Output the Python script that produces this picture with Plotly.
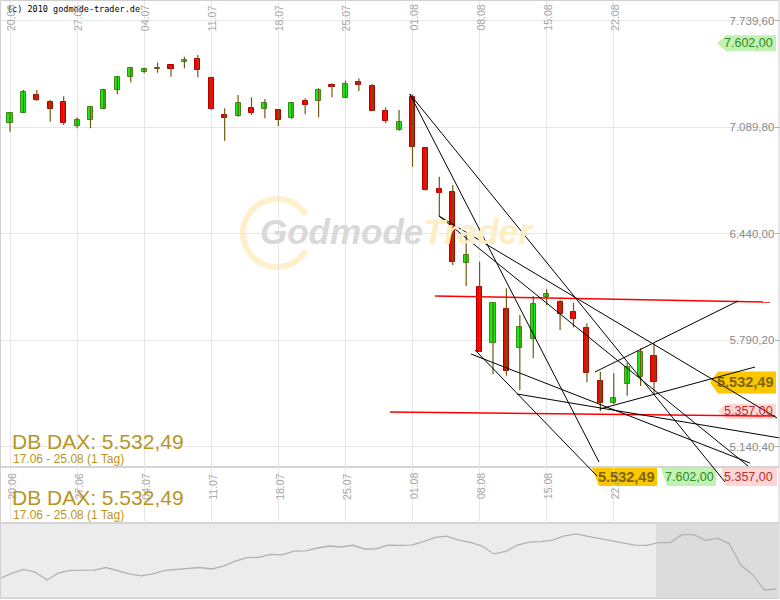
import math
import plotly.graph_objects as go

# ---------------- data ----------------
date_labels = ["20.06", "27.06", "04.07", "11.07", "18.07", "25.07", "01.08", "08.08", "15.08", "22.08"]
date_index = [0, 5, 10, 15, 20, 25, 30, 35, 40, 45]

opens = [7113.6, 7178.3, 7286.3, 7243.6, 7243.6, 7098.9, 7131.9, 7202.7, 7318.6, 7394.3,
         7428.4, 7444.0, 7467.5, 7489.4, 7505.9, 7390.0, 7162.4, 7160.0, 7205.1, 7199.0,
         7194.8, 7144.1, 7249.7, 7247.8, 7347.3, 7269.8, 7365.6, 7341.2, 7188.6, 7074.6,
         7276.0, 6961.1, 6714.6, 6694.5, 6263.1, 6116.6, 5771.3, 5980.6, 5744.5, 5799.4,
         6051.9, 6023.2, 5960.4, 5862.8, 5541.3, 5405.3, 5521.2, 5563.9, 5693.8]
highs = [7176.0, 7316.8, 7316.8, 7255.8, 7278.3, 7150.2, 7213.0, 7322.9, 7396.0, 7459.0,
         7452.8, 7483.4, 7468.0, 7519.9, 7530.3, 7398.0, 7205.1, 7286.3, 7272.2, 7261.9,
         7200.9, 7241.7, 7266.1, 7327.1, 7357.7, 7373.5, 7388.2, 7353.4, 7211.2, 7194.8,
         7290.0, 6961.1, 6787.8, 6737.1, 6442.4, 6269.2, 6016.0, 6106.9, 5944.0, 6059.9,
         6100.7, 6035.5, 6019.0, 5893.3, 5598.0, 5588.3, 5651.1, 5740.8, 5771.3]
lows = [7062.4, 7176.0, 7249.7, 7123.4, 7103.2, 7083.1, 7083.1, 7200.0, 7290.5, 7363.8,
        7418.7, 7422.3, 7398.0, 7449.2, 7394.3, 7194.8, 7007.4, 7153.9, 7164.2, 7144.1,
        7097.1, 7139.8, 7168.5, 7150.2, 7272.2, 7269.8, 7310.7, 7190.5, 7113.6, 7068.5,
        6848.8, 6702.4, 6548.0, 6249.0, 6120.9, 5718.0, 5582.2, 5573.6, 5486.4, 5679.8,
        6005.0, 5852.5, 5868.9, 5533.3, 5357.0, 5399.2, 5451.6, 5510.8, 5460.1]
closes = [7174.6, 7302.7, 7257.6, 7202.7, 7117.3, 7133.7, 7211.2, 7316.8, 7394.3, 7451.0,
          7444.9, 7442.5, 7446.7, 7499.8, 7440.6, 7202.7, 7147.8, 7235.6, 7178.3, 7235.6,
          7131.9, 7235.6, 7227.1, 7316.8, 7336.9, 7351.6, 7345.5, 7190.5, 7129.5, 7119.7,
          6970.8, 6706.6, 6690.3, 6269.2, 6310.0, 5720.0, 6015.3, 5602.3, 5868.9, 6011.1,
          6072.1, 5948.3, 5917.8, 5591.9, 5408.9, 5439.4, 5624.9, 5720.0, 5532.49]

# trendlines (start index, start price, end index, end price)
trend_i0 = [29.8, 29.8, 31.97, 31.97, 37.79, 34.66, 34.36, 43.60, 43.97]
trend_p0 = [7292.4, 7292.4, 6548.0, 6548.0, 5462.0, 5730.4, 5706.0, 5596.2, 5370.5]
trend_i1 = [43.90, 53.29, 57.17, 55.01, 57.39, 43.75, 55.15, 54.26, 55.53]
trend_p1 = [5047.1, 4925.1, 5315.6, 5022.7, 5193.5, 4961.7, 5041.0, 6029.4, 5626.7]

# red horizontal support / resistance lines
level_i0 = [31.68, 28.32]
level_p0 = [6059.9, 5352.2]
level_i1 = [56.64, 57.02]
level_p1 = [6023.2, 5327.8]

price_ticks = [5140.40, 5790.20, 6440.00, 7089.80, 7739.60]

last_price = 5532.49
mark_high = 7602.00
mark_low = 5357.00

nav_values = [5950, 6150, 6310, 6200, 5880, 6170, 6270, 6280, 6280, 6390,
              6250, 6130, 6050, 6130, 6270, 6300, 6350, 6390, 6330, 6450,
              6650, 6790, 6800, 6920, 6900, 7050, 7060, 7180, 7260, 7220,
              7290, 7140, 7150, 7300, 7290, 7300, 7440, 7610, 7660, 7500,
              7410, 7260, 6940, 7040, 7300, 7420, 7440, 7500, 7670, 7750,
              7650, 7570, 7460, 7380, 7300, 7290, 7400, 7400, 7720, 7720,
              7490, 7580, 7360, 6490, 6100, 5480, 5520]

# ---------------- geometry helpers ----------------
W, H = 780, 600
Y_RANGE = [4674.9, 7865.9]
MAIN_BOTTOM_PX = 523
X_RANGE = [-0.745, 57.39]


def px(x):
    return x / W


def py(y):
    return (H - y) / H


units_per_px = (Y_RANGE[1] - Y_RANGE[0]) / MAIN_BOTTOM_PX

fig = go.Figure()

# wicks
wx, wy = [], []
for i, (h, l) in enumerate(zip(highs, lows)):
    wx += [i, i, None]
    wy += [l, h, None]
fig.add_trace(go.Scatter(x=wx, y=wy, mode="lines", line=dict(color="#6e5a12", width=1.2),
                         hoverinfo="skip"))

# bodies
up_x, up_b, up_h = [], [], []
dn_x, dn_b, dn_h = [], [], []
dj_x, dj_b, dj_h = [], [], []
for i, (o, c) in enumerate(zip(opens, closes)):
    lo, hi = min(o, c), max(o, c)
    hgt = max(hi - lo, 8)
    if abs(c - o) < 5:
        dj_x.append(i); dj_b.append(lo); dj_h.append(hgt)
    elif c > o:
        up_x.append(i); up_b.append(lo); up_h.append(hgt)
    else:
        dn_x.append(i); dn_b.append(lo); dn_h.append(hgt)

fig.add_trace(go.Bar(x=up_x, y=up_h, base=up_b, width=0.38,
                     marker=dict(color="#14ee14", line=dict(color="#3c8c14", width=1))))
fig.add_trace(go.Bar(x=dn_x, y=dn_h, base=dn_b, width=0.38,
                     marker=dict(color="#ff0000", line=dict(color="#b40000", width=1))))
fig.add_trace(go.Bar(x=dj_x, y=dj_h, base=dj_b, width=0.38,
                     marker=dict(color="#6e5a12", line=dict(color="#6e5a12", width=1))))

# red level lines
rx, ry = [], []
for a, b, c, d in zip(level_i0, level_p0, level_i1, level_p1):
    rx += [a, c, None]
    ry += [b, d, None]
fig.add_trace(go.Scatter(x=rx, y=ry, mode="lines", line=dict(color="#ff0000", width=1.5),
                         hoverinfo="skip"))

# trendlines
tx, ty = [], []
for a, b, c, d in zip(trend_i0, trend_p0, trend_i1, trend_p1):
    tx += [a, c, None]
    ty += [b, d, None]
fig.add_trace(go.Scatter(x=tx, y=ty, mode="lines", line=dict(color="#000000", width=1),
                         hoverinfo="skip"))

# navigator
fig.add_trace(go.Scatter(x=list(range(len(nav_values))), y=nav_values, mode="lines",
                         line=dict(color="#b2b2b2", width=1.3), xaxis="x2", yaxis="y2",
                         hoverinfo="skip"))

shapes = []
# navigator background
shapes.append(dict(type="rect", xref="paper", yref="paper", x0=0, x1=px(778), y0=py(598), y1=py(523),
                   fillcolor="#ececec", line=dict(color="#d2d2d2", width=1), layer="below"))
shapes.append(dict(type="rect", xref="paper", yref="paper", x0=px(656), x1=px(778), y0=py(598), y1=py(523),
                   fillcolor="#dcdcdc", line=dict(width=0), layer="below"))
# separators
shapes.append(dict(type="line", xref="paper", yref="paper", x0=0, x1=px(779), y0=py(467), y1=py(467),
                   line=dict(color="#d4d4d4", width=2), layer="between"))
shapes.append(dict(type="line", xref="paper", yref="paper", x0=0, x1=px(779), y0=py(523), y1=py(523),
                   line=dict(color="#d4d4d4", width=2), layer="between"))
# outer border
shapes.append(dict(type="rect", xref="paper", yref="paper", x0=px(0.5), x1=px(779), y0=py(598.5), y1=py(0.5),
                   line=dict(color="#d0d0d0", width=1), fillcolor="rgba(0,0,0,0)", layer="above"))

# watermark ring (arc)
cx, cy, r = 277, 233, 34
pts = []
for k in range(0, 61):
    a = math.radians(32 + k * (296 / 60))
    pts.append((px(cx + r * math.cos(a)), py(cy - r * math.sin(a))))
path = "M " + " L ".join(f"{x:.5f},{y:.5f}" for x, y in pts)
shapes.append(dict(type="path", xref="paper", yref="paper", path=path,
                   line=dict(color="#fdf0cb", width=6), layer="below"))


# badges in main panel (arrow pointing left)
def main_badge(level, tip, left, right, half_px, fill):
    hh = half_px * units_per_px
    p = (f"M {px(tip)},{level} L {px(left)},{level + hh} L {px(right)},{level + hh} "
         f"L {px(right)},{level - hh} L {px(left)},{level - hh} Z")
    return dict(type="path", xref="paper", yref="y", path=p, fillcolor=fill,
                line=dict(width=0), layer="between")


shapes.append(main_badge(mark_high, 717, 726, 776, 8, "#c2f1b4"))
shapes.append(main_badge(last_price, 710, 718, 776, 11, "#fbc800"))
shapes.append(main_badge(mark_low, 718, 726, 776, 7.5, "#ffd5d5"))


def row_badge(tl, bl, right, fill):
    p = (f"M {px(tl)},{py(468)} L {px(right)},{py(468)} L {px(right)},{py(486)} "
         f"L {px(bl)},{py(486)} Z")
    return dict(type="path", xref="paper", yref="paper", path=p, fillcolor=fill,
                line=dict(width=0), layer="between")


shapes.append(row_badge(592, 599, 657, "#fbc800"))
shapes.append(row_badge(661, 667, 716, "#c2f1b4"))
shapes.append(row_badge(721, 726, 777, "#ffd5d5"))

ann = []
FONT = "Liberation Sans, Arial, sans-serif"
ann.append(dict(xref="paper", yref="paper", x=px(5), y=py(9), xanchor="left", yanchor="middle",
                text="(c) 2010 godmode-trader.de", showarrow=False,
                font=dict(family="DejaVu Sans Mono, monospace", size=8.5, color="#000000")))
for i, lab in zip(date_index, date_labels):
    for yc in (18, 486.5):
        ann.append(dict(xref="x", yref="paper", x=i, y=py(yc), xshift=1, textangle=-90,
                        xanchor="center", yanchor="middle", text=lab, showarrow=False,
                        font=dict(family=FONT, size=10.5, color="#a6a6a6")))
for yt, ys in ((441, 459), (497, 515)):
    ann.append(dict(xref="paper", yref="paper", x=px(10), y=py(yt), xanchor="left", yanchor="middle",
                    text="DB DAX: 5.532,49", showarrow=False,
                    font=dict(family=FONT, size=21, color="#b8961e")))
    ann.append(dict(xref="paper", yref="paper", x=px(11), y=py(ys), xanchor="left", yanchor="middle",
                    text="17.06 - 25.08 (1 Tag)", showarrow=False,
                    font=dict(family=FONT, size=12, color="#b8961e")))

# watermark text
ann.append(dict(xref="paper", yref="paper", x=px(397), y=py(231), xanchor="center", yanchor="middle",
                text="<b><i><span style='color:#d9d9d9'>Godmode</span>"
                     "<span style='color:#fdeec6'>Trader</span></i></b>",
                showarrow=False,
                font=dict(family="Liberation Sans, Arial, sans-serif", size=35, color="#d9d9d9")))

# badge texts
ann.append(dict(xref="paper", yref="y", x=px(775), y=mark_high, xanchor="right", yanchor="middle",
                text="7.602,00", showarrow=False, font=dict(family=FONT, size=12.5, color="#2f8a22")))
ann.append(dict(xref="paper", yref="y", x=px(775), y=last_price, xanchor="right", yanchor="middle",
                text="<b>5.532,49</b>", showarrow=False, font=dict(family=FONT, size=14.5, color="#7f6400")))
ann.append(dict(xref="paper", yref="y", x=px(775), y=mark_low, xanchor="right", yanchor="middle",
                text="5.357,00", showarrow=False, font=dict(family=FONT, size=12.5, color="#b43030")))
ann.append(dict(xref="paper", yref="paper", x=px(656), y=py(477), xanchor="right", yanchor="middle",
                text="<b>5.532,49</b>", showarrow=False, font=dict(family=FONT, size=14.5, color="#7f6400")))
ann.append(dict(xref="paper", yref="paper", x=px(715.5), y=py(477), xanchor="right", yanchor="middle",
                text="7.602,00", showarrow=False, font=dict(family=FONT, size=12.5, color="#2f8a22")))
ann.append(dict(xref="paper", yref="paper", x=px(775), y=py(477), xanchor="right", yanchor="middle",
                text="5.357,00", showarrow=False, font=dict(family=FONT, size=12.5, color="#b43030")))

fig.update_layout(
    width=W, height=H, margin=dict(l=0, r=0, t=0, b=0),
    paper_bgcolor="white", plot_bgcolor="white", showlegend=False,
    separators=",.", barmode="overlay", bargap=0,
    shapes=shapes, annotations=ann,
    xaxis=dict(domain=[0, 1], range=X_RANGE, tickvals=date_index, showticklabels=False,
               showgrid=True, gridcolor="#e6e6e6", gridwidth=1, zeroline=False, showline=False,
               ticks="", anchor="y"),
    yaxis=dict(domain=[py(MAIN_BOTTOM_PX), 1], range=Y_RANGE, side="right", tickvals=price_ticks,
               tickformat=",.2f", ticklabelposition="inside", ticks="inside", ticklen=5,
               tickcolor="#b0b0b0", tickfont=dict(family=FONT, size=11.5, color="#8a8a8a"),
               showgrid=True, gridcolor="#e6e6e6", zeroline=False, showline=False, anchor="x"),
    xaxis2=dict(domain=[0, 1], range=[0, 66.33], visible=False, anchor="y2"),
    yaxis2=dict(domain=[py(598), py(524)], range=[5155, 8152], visible=False, anchor="x2"),
)

fig.write_html("out.html", config={"displayModeBar": False},
               post_script="document.body.style.margin='0';document.body.style.overflow='hidden';")
